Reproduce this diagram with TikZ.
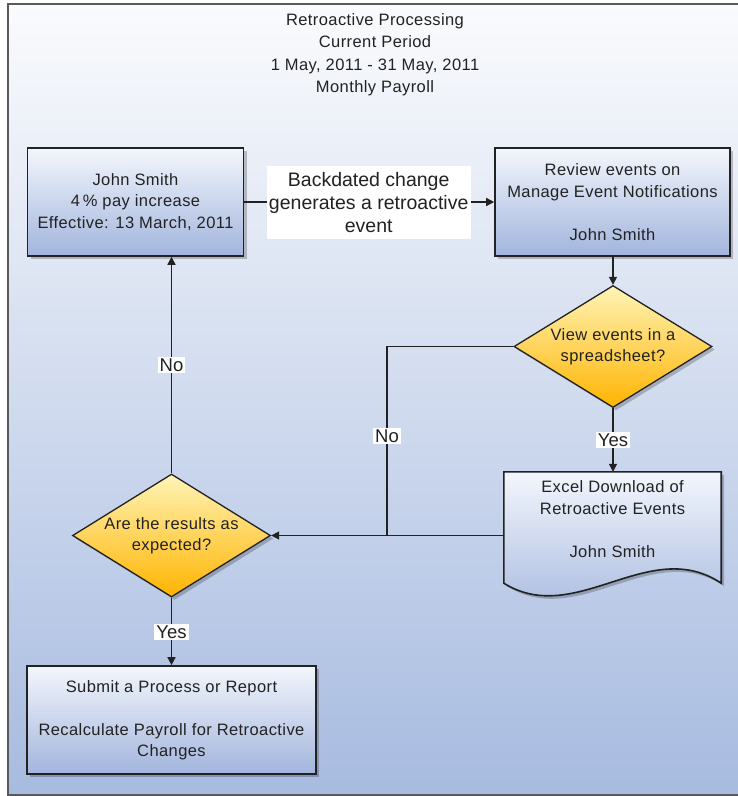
\documentclass[tikz,border=0pt]{standalone}
\usepackage{fontspec}
\setmainfont[LetterSpace=2.5]{Liberation Sans}
\newfontfamily\plainfont{Liberation Sans}
\usetikzlibrary{shapes.geometric,arrows.meta,shadows}
\definecolor{bgtop}{HTML}{FAFBFD}
\definecolor{bgbot}{HTML}{A7BBE0}
\definecolor{boxtop}{HTML}{F3F6FC}
\definecolor{boxbot}{HTML}{A2B5DD}
\definecolor{dtop}{HTML}{FFF4B8}
\definecolor{dbot}{HTML}{FFB400}
\definecolor{ink}{HTML}{222222}
\definecolor{framec}{HTML}{5A5A5A}
\begin{document}
\begin{tikzpicture}[x=1pt,y=-1pt,
  every node/.style={font=\fontsize{16.5}{21.5}\selectfont, text=ink},
  shad/.style={drop shadow={shadow xshift=3pt,shadow yshift=-3pt,fill=black,opacity=0.22}},
  procbox/.style={draw=ink, line width=1.6pt, top color=boxtop, bottom color=boxbot, align=center, inner sep=0pt, shad},
  decision/.style={diamond, draw=ink, line width=1.3pt, top color=dtop, bottom color=dbot, inner sep=0pt, shad},
  dtext/.style={align=center, inner sep=0pt},
  conn/.style={draw=ink, line width=1.5pt},
  arr/.style={conn, -{Triangle[length=8pt,width=8pt]}},
  tag/.style={fill=white, inner sep=2pt, font=\plainfont\fontsize{18.5}{21}\selectfont}
]
\useasboundingbox (0,0) rectangle (738,796);
% background frame
\fill[top color=bgtop, bottom color=bgbot] (8,4) rectangle (750,795);
\draw[framec, line width=2pt] (750,4) -- (8,4) -- (8,795) -- (750,795);

% title
\node[align=center, font=\fontsize{16.5}{22.5}\selectfont] (title) at (375,54.5) {Retroactive Processing\\Current Period\\1 May, 2011 - 31 May, 2011\\Monthly Payroll};

% nodes
\node[procbox, minimum width=216pt, minimum height=108pt] (b1) at (135.5,202)
  {John Smith\\4\,\% pay increase\\Effective: 13 March, 2011};
\node[procbox, minimum width=235pt, minimum height=108pt] (b2) at (612.5,202)
  {Review events on\\Manage Event Notifications\\[21.5pt]John Smith};
\node[decision, minimum width=198pt, minimum height=122pt] (d1) at (613,346.5) {};
\node[dtext] (d1t) at (d1) {View events in a\\spreadsheet?};

\node[minimum width=217pt, minimum height=111pt, inner sep=0pt] (doc) at (612.5,527.5) {};
\path[draw=ink, line width=1.6pt, top color=boxtop, bottom color=boxbot, shad]
  (doc.north west) -- (doc.north east) -- (doc.south east)
  .. controls (649,535) and (576,628) .. (doc.south west) -- cycle;
\node[align=center] (doct) at (612.5,519) {Excel Download of\\Retroactive Events\\[21.5pt]John Smith};

\node[decision, minimum width=198pt, minimum height=123pt] (d2) at (171.5,535.5) {};
\node[dtext] (d2t) at (d2) {Are the results as\\expected?};

\node[procbox, minimum width=289pt, minimum height=108pt] (b3) at (171.5,720)
  {Submit a Process or Report\\[21.5pt]Recalculate Payroll for Retroactive\\Changes};

% connectors
\draw[arr] (b1.east) -- (b2.west);
\draw[arr] (b2.south -| d1.north) -- (d1.north);
\draw[arr] (d1.south) -- (doc.north -| d1.south);
\coordinate (nj) at (387,535.5);
\draw[conn] (d1.west) -| (nj);
\draw[arr] (doc.west |- d2.east) -- (d2.east);
\draw[arr] (d2.north) -- (d2.north |- b1.south);
\draw[arr] (d2.south) -- (b3.north);

% labels
\node[fill=white, align=center, inner sep=0pt, minimum width=204pt, minimum height=73pt,
  font=\plainfont\fontsize{19.5}{23}\selectfont] (bl) at (368.7,202.5)
  {Backdated change\\generates a retroactive\\event};
\node[tag] (yes1) at (613,440) {Yes};
\node[tag] (no1) at (387,436) {No};
\node[tag] (no2) at (171.5,365) {No};
\node[tag] (yes2) at (171.5,632) {Yes};
\end{tikzpicture}
\end{document}
